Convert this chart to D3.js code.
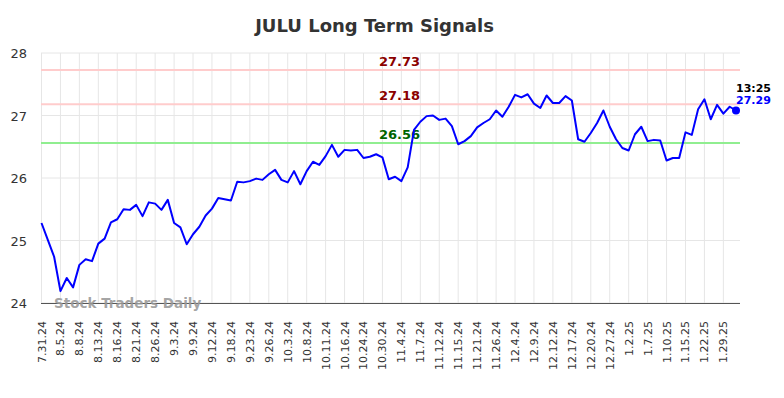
<!DOCTYPE html>
<html><head><meta charset="utf-8">
<script src="https://cdn.jsdelivr.net/npm/d3@7"></script>
<style>body{margin:0;background:#fff}svg{display:block;font-family:"DejaVu Sans",sans-serif}</style>
</head><body><svg id="c" width="784" height="398"></svg>
<script>
const tickLabels = ["7.31.24","8.5.24","8.8.24","8.13.24","8.16.24","8.21.24","8.26.24","9.3.24","9.9.24","9.12.24","9.18.24","9.23.24","9.26.24","10.3.24","10.8.24","10.11.24","10.16.24","10.24.24","10.30.24","11.4.24","11.7.24","11.12.24","11.15.24","11.21.24","11.26.24","12.4.24","12.9.24","12.12.24","12.17.24","12.20.24","12.27.24","1.2.25","1.7.25","1.10.25","1.15.25","1.22.25","1.29.25"];
const values = [25.28,25.01,24.74,24.19,24.40,24.25,24.61,24.70,24.67,24.95,
25.03,25.29,25.34,25.50,25.49,25.57,25.39,25.61,25.59,25.49,
25.65,25.28,25.21,24.94,25.10,25.22,25.40,25.51,25.68,25.66,
25.64,25.94,25.93,25.95,25.99,25.97,26.06,26.13,25.97,25.93,
26.11,25.90,26.11,26.26,26.21,26.35,26.53,26.34,26.45,26.44,
26.45,26.32,26.34,26.38,26.33,25.98,26.02,25.95,26.17,26.77,
26.90,26.99,27.00,26.93,26.95,26.83,26.54,26.59,26.67,26.81,
26.88,26.94,27.08,26.98,27.14,27.33,27.29,27.34,27.19,27.12,
27.32,27.20,27.20,27.31,27.24,26.62,26.58,26.72,26.88,27.08,
26.82,26.62,26.48,26.44,26.70,26.82,26.59,26.61,26.60,26.28,
26.32,26.32,26.73,26.69,27.10,27.26,26.94,27.17,27.03,27.14,27.08];
const tickEvery = 3;
const yTicks = [24,25,26,27,28];
const levels = [27.73, 27.18, 26.56];
const levelKinds = ["resistance","resistance","support"];
const lastTime = "13:25";
const lastLabel = "27.29";
const titleText = "JULU Long Term Signals";
const watermark = "Stock Traders Daily";

const svg = d3.select("#c");
const x = d3.scaleLinear().domain([0, values.length-1]).range([41.5, 736]);
const y = d3.scaleLinear().domain([24, 28]).range([303, 53]);
const gridRight = 740;

// horizontal grid
svg.append("g").selectAll("line").data(yTicks).join("line")
  .attr("x1", 41).attr("x2", gridRight).attr("y1", d=>y(d)).attr("y2", d=>y(d))
  .attr("stroke", "#e6e6e6").attr("stroke-width", 1);
// vertical grid
const tickIdx = tickLabels.map((_, i) => i*tickEvery);
svg.append("g").selectAll("line").data(tickIdx).join("line")
  .attr("x1", d=>x(d)).attr("x2", d=>x(d)).attr("y1", 53).attr("y2", 303)
  .attr("stroke", "#e6e6e6").attr("stroke-width", 1);

// y labels
svg.append("g").selectAll("text").data(yTicks).join("text")
  .attr("x", 27).attr("y", d=>y(d)+5).attr("text-anchor","end")
  .attr("font-size", 13).attr("fill","#333").text(d=>d);

// x labels
svg.append("g").selectAll("text").data(tickIdx).join("text")
  .attr("transform", d=>`translate(${x(d)+4},321) rotate(-90)`)
  .attr("text-anchor","end").attr("font-size", 11).attr("fill","#333")
  .text((d,i)=>tickLabels[i]);

// levels
svg.append("g").selectAll("line").data(levels).join("line")
  .attr("x1", 41).attr("x2", gridRight).attr("y1", d=>y(d)).attr("y2", d=>y(d))
  .attr("stroke", (d,i)=>levelKinds[i]==="support" ? "#90ee90" : "#ffcccc").attr("stroke-width", 2);
svg.append("g").selectAll("text").data(levels).join("text")
  .attr("x", 399.5).attr("y", d=>y(d)-4).attr("text-anchor","middle")
  .attr("font-size", 13).attr("font-weight","bold")
  .attr("fill", (d,i)=>levelKinds[i]==="support" ? "#006400" : "#8b0000")
  .text(d=>d.toFixed(2));

// axis line
svg.append("line").attr("x1",41).attr("x2",gridRight).attr("y1",303.5).attr("y2",303.5)
  .attr("stroke","#555").attr("stroke-width",1);

// watermark
svg.append("text").attr("x", 54).attr("y", 308).attr("font-size", 13.5).attr("font-weight","bold")
  .attr("fill","#999").attr("fill-opacity",0.9).text(watermark);

// line
svg.append("path").datum(values)
  .attr("d", d3.line().x((d,i)=>x(i)).y(d=>y(d)))
  .attr("fill","none").attr("stroke","#0000ff").attr("stroke-width",2).attr("stroke-linejoin","round");
const li = values.length-1;
svg.append("circle").attr("cx", x(li)).attr("cy", y(values[li])).attr("r", 4).attr("fill","#0000ff");

svg.append("text").attr("x", 736).attr("y", 92).attr("font-size", 11).attr("font-weight","bold")
  .attr("fill","#000").text(lastTime);
svg.append("text").attr("x", 736).attr("y", 104).attr("font-size", 11).attr("font-weight","bold")
  .attr("fill","#0000ff").text(lastLabel);

// title
svg.append("text").attr("x", 374.5).attr("y", 32).attr("text-anchor","middle")
  .attr("font-size", 18).attr("font-weight","bold").attr("fill","#333").text(titleText);
</script></body></html>
